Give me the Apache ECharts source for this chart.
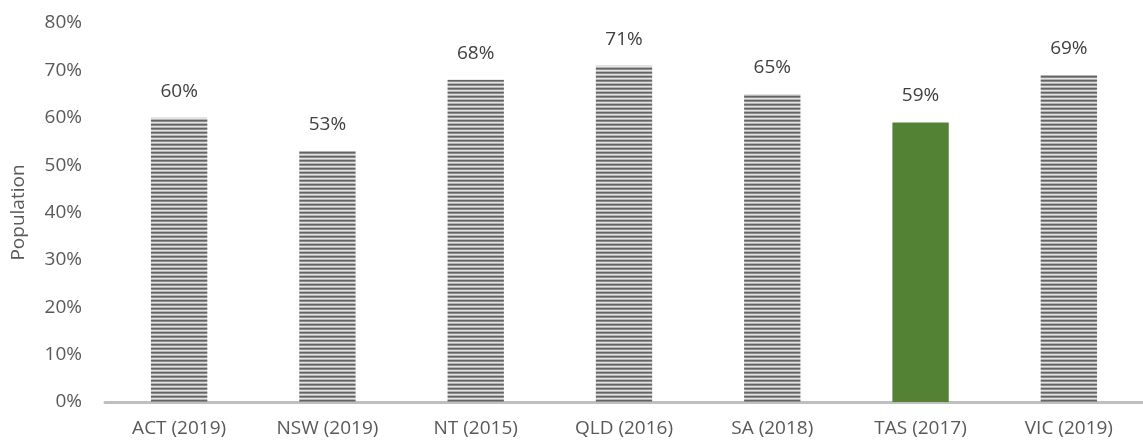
<!DOCTYPE html>
<html><head><meta charset="utf-8">
<script src="https://cdn.jsdelivr.net/npm/echarts@6/dist/echarts.min.js"></script>
<style>html,body{margin:0;padding:0;background:#fff}#c{width:1143px;height:441px}</style>
</head><body><div id="c"></div>
<script>
const categories = ['ACT (2019)','NSW (2019)','NT (2015)','QLD (2016)','SA (2018)','TAS (2017)','VIC (2019)'];
const values = [60,53,68,71,65,59,69];
const highlight = 'TAS (2017)';
const yTicks = [0,10,20,30,40,50,60,70,80];

const pc = document.createElement('canvas');
pc.width = 4; pc.height = 4;
const g = pc.getContext('2d');
const rows = ['#646464','#8c8c8c','#e4e4e4','#b4b4b4'];
rows.forEach((c,i)=>{g.fillStyle=c;g.fillRect(0,i,4,1);});
const stripe = {image: pc, repeat: 'repeat'};

const font = 'Open Sans';
const chart = echarts.init(document.getElementById('c'));
chart.setOption({
  animation:false,
  grid:{left:105,right:-12,top:23,bottom:39},
  xAxis:{type:'category',data:categories,
    axisLine:{lineStyle:{color:'#bfbfbf',width:3}},
    axisTick:{show:false},
    axisLabel:{color:'#595959',fontSize:19,fontFamily:font,margin:17}},
  yAxis:{type:'value',min:yTicks[0],max:yTicks[yTicks.length-1],interval:10,
    name:'Population',nameLocation:'middle',nameGap:77,nameRotate:90,
    nameTextStyle:{color:'#595959',fontSize:19,fontFamily:font},
    axisLine:{show:false},axisTick:{show:false},splitLine:{show:false},
    axisLabel:{color:'#595959',fontSize:19,fontFamily:font,margin:23,formatter:v=>v+'%'}},
  series:[{type:'bar',barWidth:'38%',
    data:values.map((v,i)=>({value:v,itemStyle:{color:categories[i]===highlight?'#548235':stripe}})),
    label:{show:true,position:'top',distance:17,color:'#404040',fontSize:19,fontFamily:font,formatter:p=>p.value+'%'}}]
});
</script></body></html>
